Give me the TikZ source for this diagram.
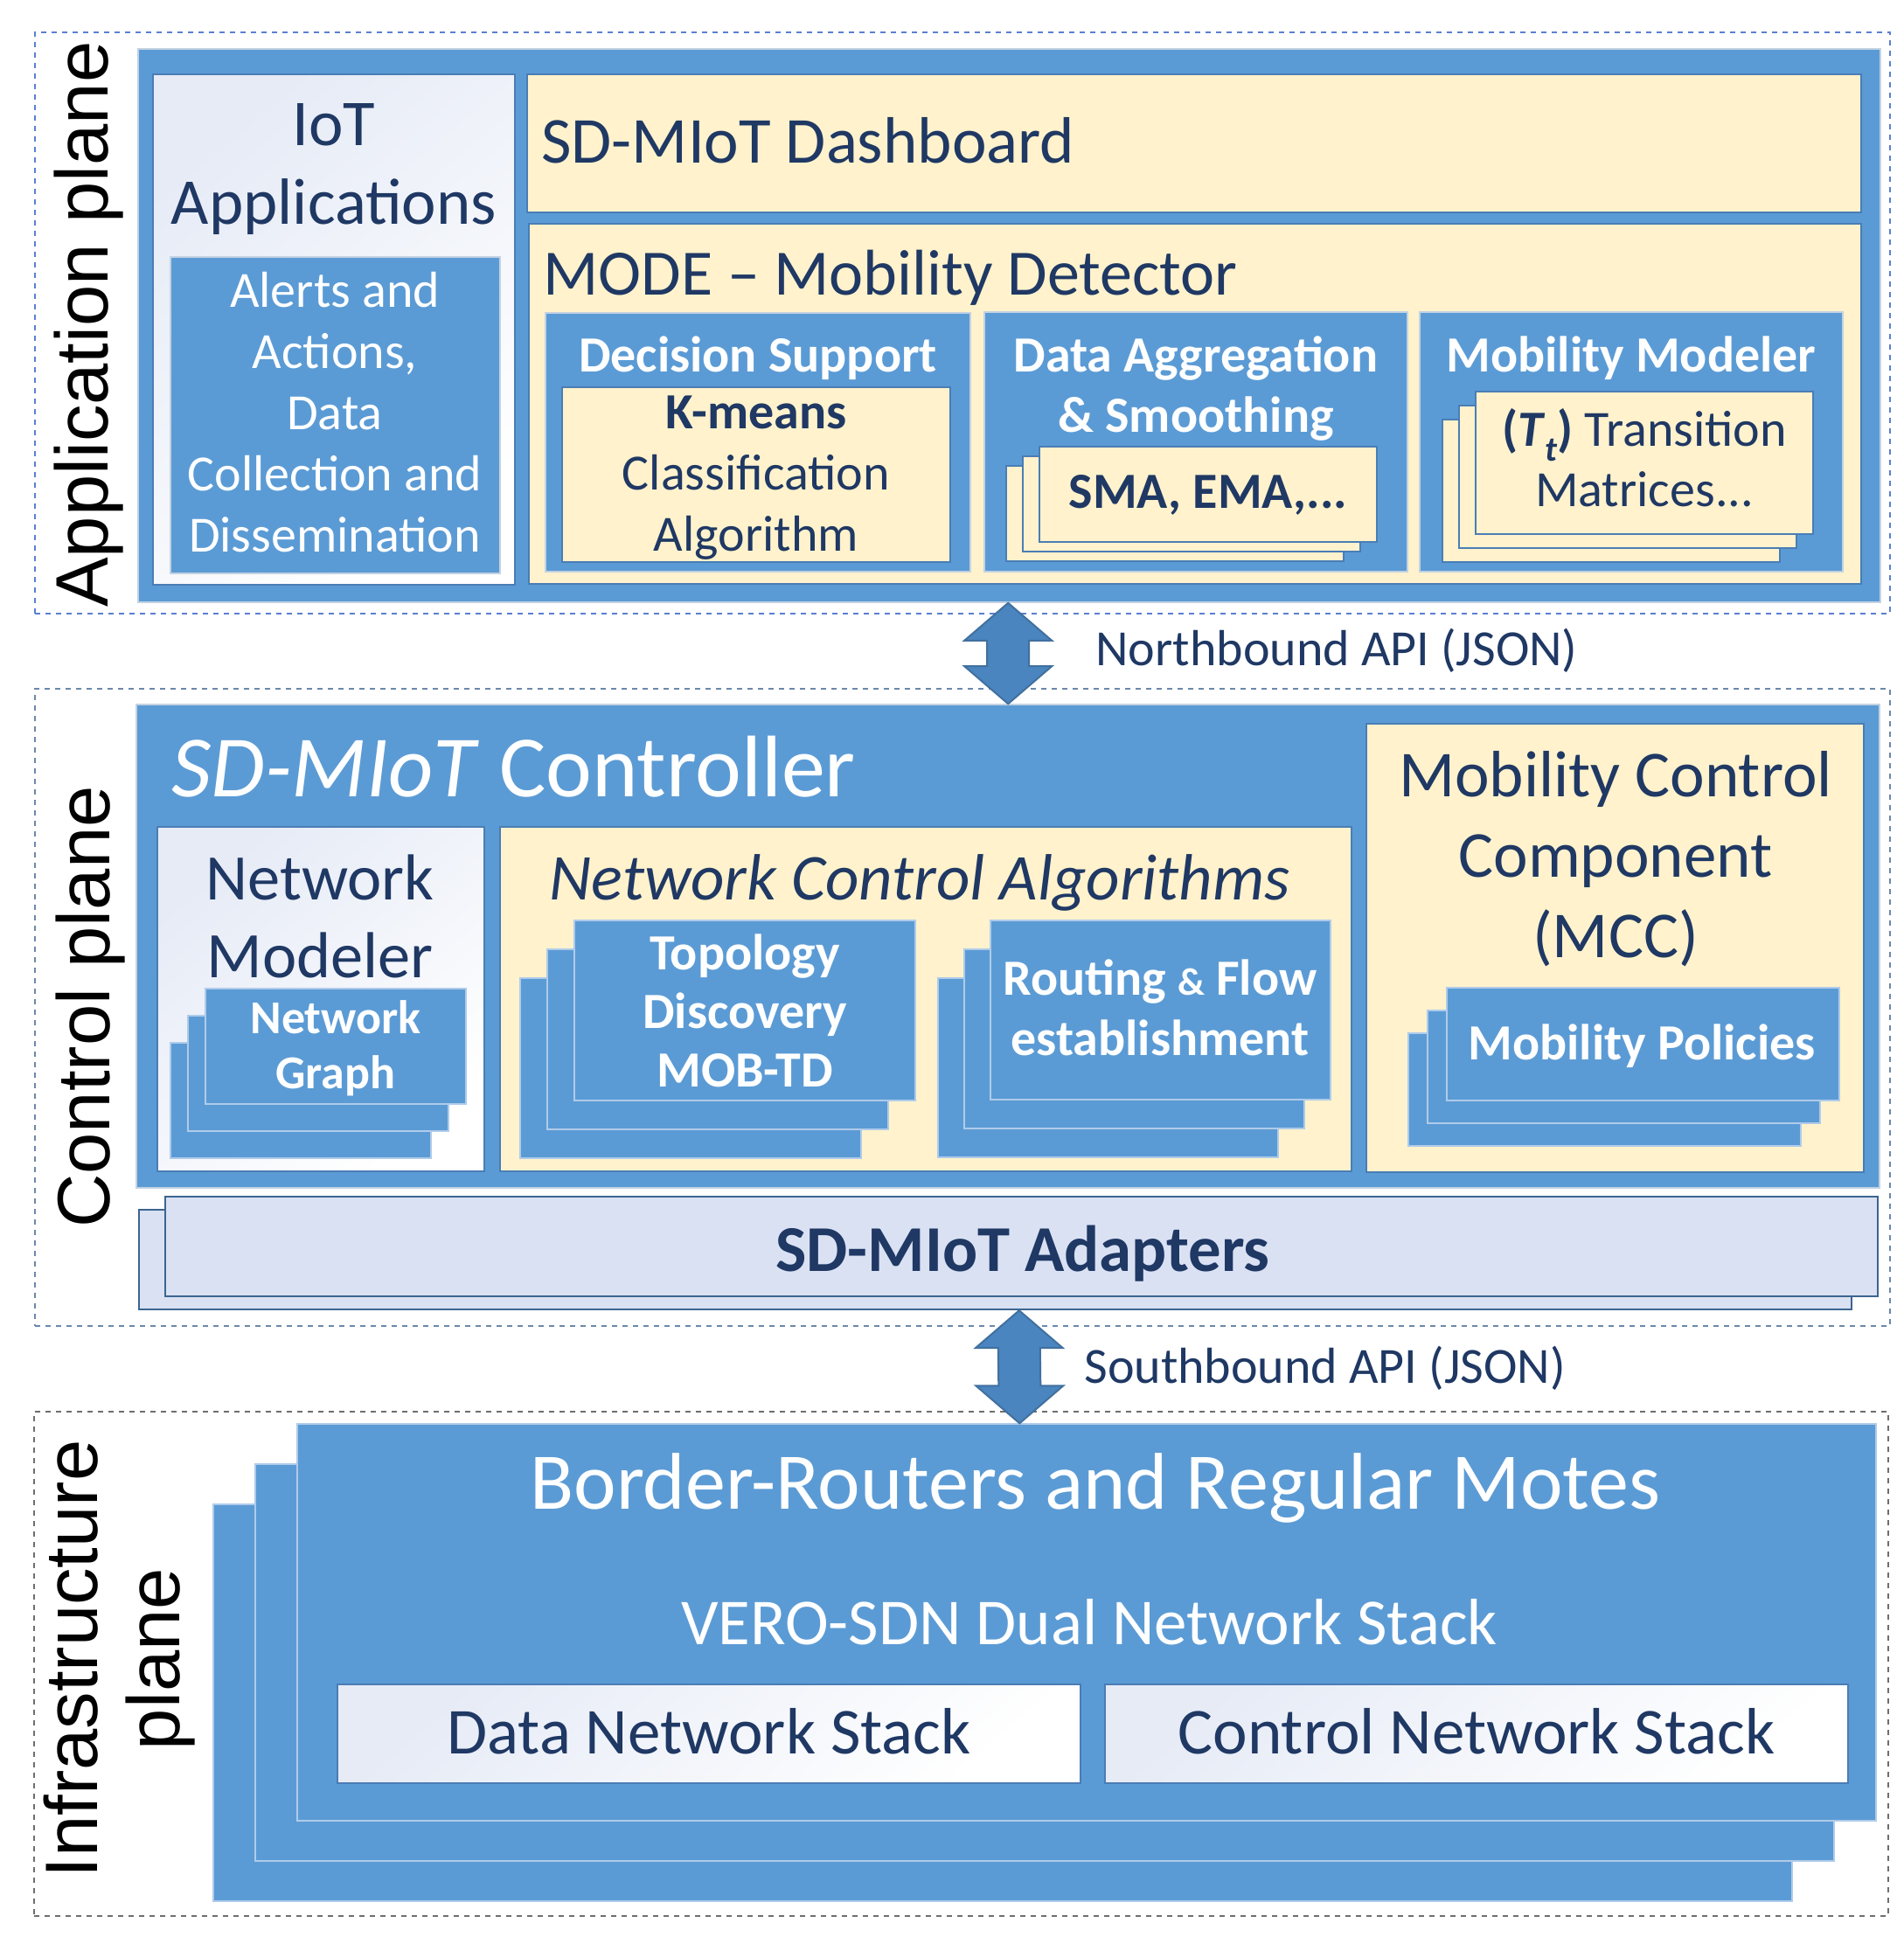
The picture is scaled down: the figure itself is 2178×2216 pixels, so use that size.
\documentclass[tikz,border=0pt]{standalone}
\usepackage{fontspec}
\setmainfont{Carlito}
\newfontfamily\planefont{Liberation Sans}
\usetikzlibrary{fit,calc}

\definecolor{boxblue}{HTML}{5B9BD5}
\definecolor{boxedge}{HTML}{C3D2E2}
\definecolor{stackedge}{HTML}{AFCBEA}
\definecolor{cream}{HTML}{FFF2CC}
\definecolor{innerline}{HTML}{4A7DB5}
\definecolor{navy}{HTML}{1F3864}
\definecolor{shadeblue}{HTML}{E6EBF6}
\definecolor{adapterfill}{HTML}{DAE1F3}
\definecolor{adapterline}{HTML}{3C6590}
\definecolor{arrowblue}{HTML}{4A85BF}
\definecolor{arrowline}{HTML}{41709E}
\definecolor{appdash}{HTML}{5A7FD2}
\definecolor{ctrldash}{HTML}{6B88AA}
\definecolor{infradash}{HTML}{6E6E6E}

\newcommand{\fs}[2]{\fontsize{#1}{#2}\selectfont}

\tikzstyle{planeframe}=[dashed, line width=0.7pt, inner sep=0pt]
\tikzstyle{planelabel}=[font=\planefont\fs{42.5}{47}, text=black, inner sep=0pt, align=center]
\tikzstyle{bluebox}=[fill=boxblue, draw=boxedge, line width=0.8pt, inner sep=0pt]
\tikzstyle{stackblue}=[fill=boxblue, draw=stackedge, line width=0.7pt, inner sep=0pt]
\tikzstyle{creambox}=[fill=cream, draw=innerline, line width=1pt, inner sep=0pt]
\tikzstyle{whitebox}=[draw=innerline, line width=1.2pt, inner sep=0pt,
    top color=shadeblue, bottom color=white, shading angle=40]
\tikzstyle{adapterbox}=[fill=adapterfill, draw=adapterline, line width=1.2pt, inner sep=0pt]
\tikzstyle{navytext}=[text=navy, inner sep=0pt, align=center]
\tikzstyle{whitetext}=[text=white, inner sep=0pt, align=center]
\tikzstyle{apiarrow}=[fill=arrowblue, draw=arrowline, line width=1pt, line join=miter]

% name, style, layers, x1, y1, x2, y2, shift left, shift down
\newcommand{\stackbox}[9]{%
  \foreach \k in {#3}
    \node[#2, fit={(#4-\k*#8,#5+\k*#9) (#6-\k*#8,#7+\k*#9)}] (#1\k) {};
}
% double headed arrow between two coordinates
\newcommand{\dblarrow}[2]{%
  \filldraw[apiarrow] (#1) -- ($(#1)+(50,43)$) -- ($(#1)+(24,43)$)
    -- ($(#2)+(24,-43)$) -- ($(#2)+(50,-43)$) -- (#2)
    -- ($(#2)+(-50,-43)$) -- ($(#2)+(-24,-43)$)
    -- ($(#1)+(-24,43)$) -- ($(#1)+(-50,43)$) -- cycle;
}

\begin{document}
\begin{tikzpicture}[x=0.5pt, y=-0.5pt]
\useasboundingbox (0,0) rectangle (2178,2216);
%The three planes
\node[planeframe, draw=appdash, fit={(40,37) (2162,702)}] (appplane) {};
\node[planeframe, draw=ctrldash, fit={(40,788) (2162,1517)}] (ctrlplane) {};
\node[planeframe, draw=infradash, fit={(39,1615) (2160,2192)}] (infraplane) {};
\node[planelabel, rotate=90, anchor=base] (applabel) at (123,371) {Application plane};
\node[planelabel, rotate=90, anchor=base] (ctrllabel) at (125,1152) {Control plane};
\node[planelabel, rotate=90, anchor=base] (infralabel) at (205,1898) {Infrastructure\\plane};

%Application plane
\node[bluebox, fit={(158,56) (2151,689)}] (appbox) {};
\node[whitebox, fit={(175,85) (589,669)}] (iotbox) {};
\node[bluebox, fit={(195,294) (572,656)}] (alertbox) {};
\node[creambox, fit={(603,85) (2129,243)}] (dashbox) {};
\node[creambox, fit={(605,256) (2129,668)}] (modebox) {};
\node[bluebox, fit={(624,358) (1110,654)}] (decbox) {};
\node[creambox, fit={(643,443) (1087,643)}] (kmeansbox) {};
\node[bluebox, fit={(1126,357) (1610,654)}] (aggbox) {};
\stackbox{sma}{creambox}{2,1,0}{1189}{511}{1575}{620}{19}{11}
\node[bluebox, fit={(1624,357) (2108,654)}] (mobmodbox) {};
\stackbox{trans}{creambox}{2,1,0}{1688}{448}{2074}{611}{19}{16}

\node[navytext, font=\fs{37.4}{44.5}, anchor=base] (iottext) at (382,256) {IoT\\Applications};
\node[whitetext, font=\fs{29}{35}, anchor=base] (alerttext) at (383,631)
    {Alerts and\\Actions,\\Data\\Collection and\\Dissemination};
\node[navytext, font=\fs{37.5}{44}, anchor=base west] (dashtext) at (619,186) {SD-MIoT Dashboard};
\node[navytext, font=\fs{37}{44}, anchor=base west] (modetext) at (621,337) {MODE – Mobility Detector};
\node[whitetext, font=\bfseries\fs{29}{34.5}, anchor=base] (dectext) at (867,425) {Decision Support};
\node[navytext, font=\fs{29}{35}, anchor=base] (kmeanstext) at (865,630)
    {\textbf{K-means}\\Classification\\Algorithm};
\node[whitetext, font=\bfseries\fs{29}{34.5}, anchor=base] (aggtext) at (1368,494)
    {Data Aggregation\\\& Smoothing};
\node[navytext, font=\bfseries\fs{29}{34}, anchor=base] (smatext) at (1382,581) {SMA, EMA,...};
\node[whitetext, font=\bfseries\fs{29}{34}, anchor=base] (mobmodtext) at (1866,425) {Mobility Modeler};
\node[navytext, font=\fs{29}{34.5}, anchor=base] (transtext) at (1881,579)
    {\textbf{(\textit{T}\raisebox{-0.3em}{\textit{\fs{20}{20}t}})} Transition\\Matrices...};

%Control plane
\node[bluebox, fit={(156,806) (2150,1359)}] (ctrlbox) {};
\node[whitebox, fit={(180,946) (554,1340)}] (netmodbox) {};
\stackbox{graph}{stackblue}{2,1,0}{235}{1131}{533}{1263}{20}{31}
\node[creambox, fit={(572,946) (1546,1340)}] (ncabox) {};
\stackbox{topo}{stackblue}{2,1,0}{657}{1053}{1047}{1259}{31}{33}
\stackbox{route}{stackblue}{2,1,0}{1133}{1053}{1522}{1258}{30}{33}
\node[creambox, fit={(1563,828) (2132,1341)}] (mccbox) {};
\stackbox{policy}{stackblue}{2,1,0}{1655}{1130}{2104}{1259}{22}{26}
\stackbox{adapt}{adapterbox}{1,0}{189}{1369}{2148}{1483}{30}{15}

\node[whitetext, font=\fs{50}{60}, anchor=base west] (ctrltext) at (196,911) {\textit{SD-MIoT} Controller};
\node[navytext, font=\fs{37.2}{44.5}, anchor=base] (netmodtext) at (366,1118) {Network\\Modeler};
\node[whitetext, font=\bfseries\fs{27}{31.5}, anchor=base] (graphtext) at (384,1245) {Network\\Graph};
\node[navytext, font=\itshape\fs{37.4}{44}, anchor=base] (ncatext) at (1052,1029) {Network Control Algorithms};
\node[whitetext, font=\bfseries\fs{29}{33.5}, anchor=base] (topotext) at (852,1243)
    {Topology\\Discovery\\MOB-TD};
\node[whitetext, font=\bfseries\fs{29}{34.5}, anchor=base] (routetext) at (1327,1207)
    {Routing {\fs{22}{22}\&} Flow\\establishment};
\node[navytext, font=\fs{37.5}{46}, anchor=base] (mcctext) at (1848,1095)
    {Mobility Control\\Component\\(MCC)};
\node[whitetext, font=\bfseries\fs{29}{34}, anchor=base] (policytext) at (1878,1212) {Mobility Policies};
\node[navytext, font=\bfseries\fs{37.4}{44}, anchor=base] (adapttext) at (1170,1454) {SD-MIoT Adapters};

%Infrastructure plane
\stackbox{infra}{stackblue}{2,1,0}{340}{1629}{2146}{2083}{48}{46}
\node[whitebox, fit={(386,1927) (1236,2040)}] (databox) {};
\node[whitebox, fit={(1264,1927) (2114,2040)}] (ctrlstackbox) {};
\node[whitetext, font=\fs{46}{54}, anchor=base] (bordertext) at (1253,1726) {Border-Routers and Regular Motes};
\node[whitetext, font=\fs{37.5}{44}, anchor=base] (verotext) at (1246,1881) {VERO-SDN Dual Network Stack};
\node[navytext, font=\fs{37.5}{44}, anchor=base] (datatext) at (811,2006) {Data Network Stack};
\node[navytext, font=\fs{37.5}{44}, anchor=base] (ctrlstacktext) at (1689,2006) {Control Network Stack};

%APIs
\coordinate (nbtop) at ($(appbox.south west)+(996,0)$);
\coordinate (nbbot) at ($(ctrlbox.north west)+(998,0)$);
\coordinate (sbtop) at ($(adapt1.south west)+(1008,0)$);
\coordinate (sbbot) at ($(infra0.north west)+(827,0)$);
\dblarrow{nbtop}{nbbot}
\dblarrow{sbtop}{sbbot}
\node[navytext, font=\fs{29}{34}, anchor=base west] (northtext) at (1253,761) {Northbound API (JSON)};
\node[navytext, font=\fs{29}{34}, anchor=base west] (southtext) at (1240,1582) {Southbound API (JSON)};
\end{tikzpicture}
\end{document}
